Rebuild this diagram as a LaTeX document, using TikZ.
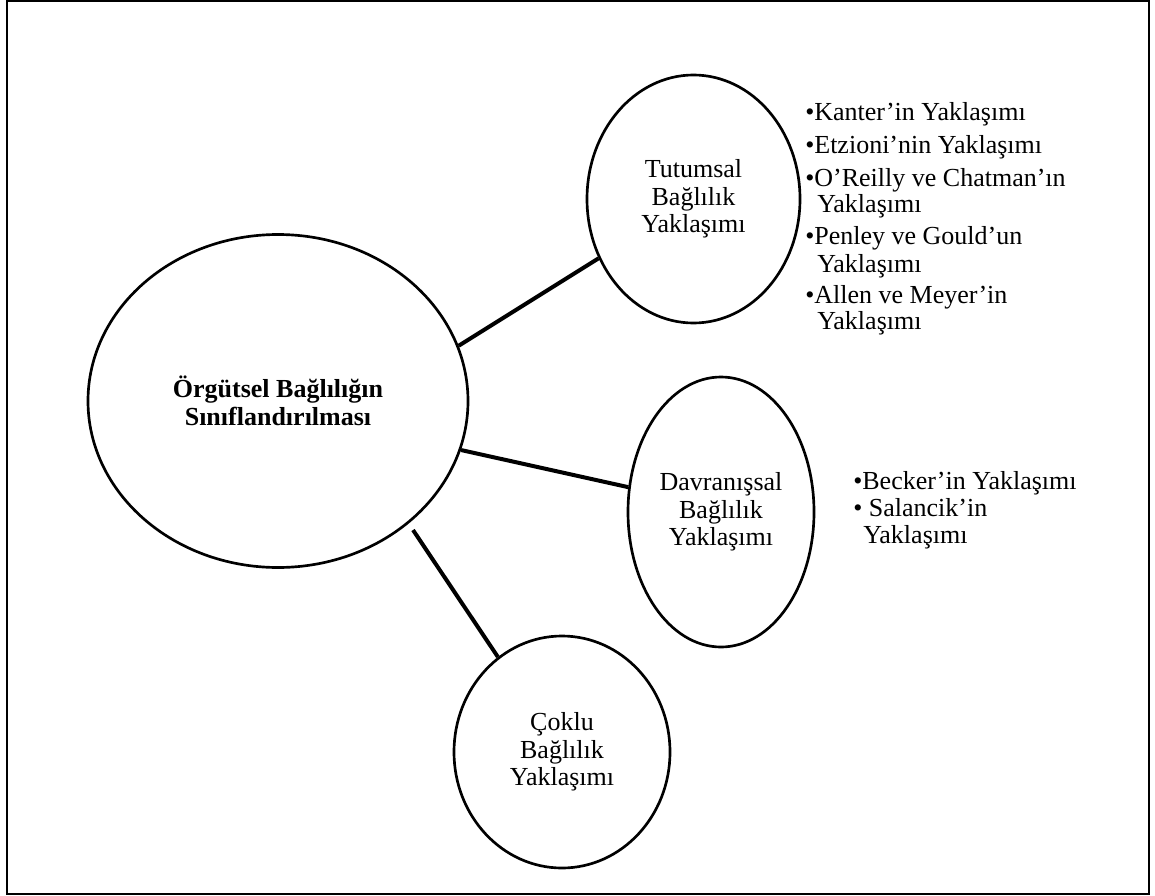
\documentclass[tikz,border=0pt]{standalone}
\usepackage{fontspec}
\setmainfont{Liberation Serif}
\usetikzlibrary{shapes.geometric}
\begin{document}
\begin{tikzpicture}[x=0.75pt,y=-0.75pt,
  every node/.style={font=\fontsize{19.5}{20.6}\selectfont, inner sep=0pt},
  bubble/.style={ellipse, draw, line width=2pt, align=center},
  link/.style={line width=3pt},
  item/.style={anchor=base west}]
  \useasboundingbox (0,0) rectangle (1155,895);
  % outer frame
  \draw[line width=1.7pt] (6.8,0.8) rectangle (1149,894);

  % central ellipse and the three approaches
  \node[bubble, minimum width=285pt, minimum height=249.75pt,
        font=\fontsize{19.5}{21.2}\selectfont\bfseries]
        (big) at (278,401) {Örgütsel Bağlılığın\\Sınıflandırılması};
  \node[bubble, minimum width=159.75pt, minimum height=186pt]
        (tut) at (693.5,199) {Tutumsal\\Bağlılık\\Yaklaşımı};
  \node[bubble, minimum width=139.5pt, minimum height=202.5pt]
        (dav) at (721,512) {Davranışsal\\Bağlılık\\Yaklaşımı};
  \node[bubble, minimum width=162pt, minimum height=174pt]
        (cok) at (562,752) {Çoklu\\Bağlılık\\Yaklaşımı};

  % connectors
  \draw[link] (big.17) -- (tut.212);
  \draw[link] (big.-15) -- (dav.165);
  \coordinate (gap) at (413,530);
  \draw[link] (gap) -- (cok.124);

  % attitudinal approaches
  \node[item] (t1) at (805,121) {•Kanter’in Yaklaşımı};
  \node[item] (t2) at (805,153) {•Etzioni’nin Yaklaşımı};
  \node[item] (t3) at (805,186) {•O’Reilly ve Chatman’ın};
  \node[item] (t4) at (817,212) {Yaklaşımı};
  \node[item] (t5) at (805,244) {•Penley ve Gould’un};
  \node[item] (t6) at (817,272) {Yaklaşımı};
  \node[item] (t7) at (805,303) {•Allen ve Meyer’in};
  \node[item] (t8) at (817,329) {Yaklaşımı};

  % behavioural approaches
  \node[item] (d1) at (853,489) {•Becker’in Yaklaşımı};
  \node[item] (d2) at (853,516) {• Salancik’in};
  \node[item] (d3) at (863,543) {Yaklaşımı};
\end{tikzpicture}
\end{document}
